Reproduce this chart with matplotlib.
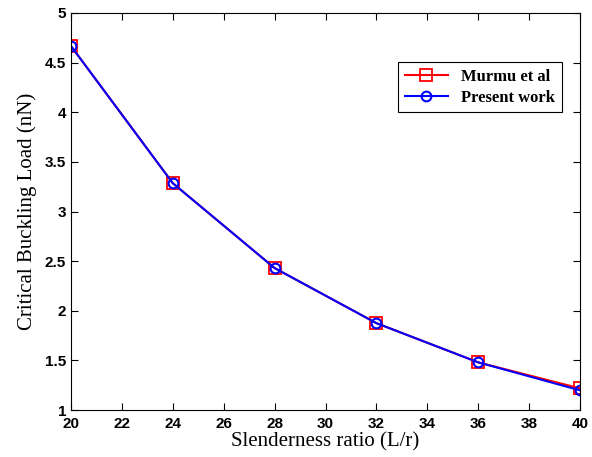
import matplotlib.pyplot as plt

razon_esbeltez = [20, 24, 28, 32, 36, 40]
carga_murmu = [4.667, 3.285, 2.43, 1.875, 1.48, 1.218]
carga_presente = [4.667, 3.285, 2.43, 1.875, 1.48, 1.198]

fig = plt.figure(figsize=(5.92, 4.57), dpi=100)
ax = fig.add_axes([71 / 592, 1 - 410 / 457, 509 / 592, 397 / 457])

ax.plot(razon_esbeltez, carga_murmu, color='red', marker='s', markersize=8,
        markerfacecolor='none', markeredgewidth=1.3, linewidth=1.5, label='Murmu et al')
ax.plot(razon_esbeltez, carga_presente, color='blue', marker='o', markersize=7,
        markerfacecolor='none', markeredgewidth=1.5, linewidth=1.5, label='Present work')

ax.set_xlim(20, 40)
ax.set_ylim(1, 5)
ax.set_xticks(range(20, 41, 2))
ax.set_yticks([1, 1.5, 2, 2.5, 3, 3.5, 4, 4.5, 5])
ax.set_yticklabels(['1', '1.5', '2', '2.5', '3', '3.5', '4', '4.5', '5'])

ax.tick_params(direction='in', top=True, right=True, length=5, width=0.8)
ax.tick_params(axis='x', pad=5)
for lbl in ax.get_xticklabels() + ax.get_yticklabels():
    lbl.set_fontfamily('Liberation Sans')
    lbl.set_fontweight('bold')
    lbl.set_fontsize(11)

ax.set_xlabel('Slenderness ratio (L/r)', family='Liberation Serif', fontsize=15, labelpad=1)
ax.set_ylabel('Critical Buckling Load (nN)', family='Liberation Serif', fontsize=15, labelpad=6)

# esquina superior derecha de la leyenda en (562, 62) px
leg = ax.legend(loc='upper right', bbox_to_anchor=((562 - 71) / 509, 1 - (62 - 13) / 397),
                borderaxespad=0,
                prop={'family': 'Liberation Serif', 'weight': 'bold', 'size': 12},
                fancybox=False, edgecolor='black', framealpha=1, handlelength=2.6,
                borderpad=0.4, labelspacing=0.3)
leg.get_frame().set_linewidth(0.8)

plt.savefig('out.png', dpi=100)
